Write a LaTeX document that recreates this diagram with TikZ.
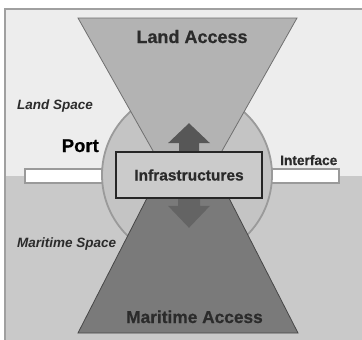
\documentclass[tikz,border=0pt]{standalone}
\usepackage{fontspec}
\setmainfont{Liberation Sans}[BoldFeatures={FakeBold=0.6}]
\usetikzlibrary{calc}
\definecolor{landbg}{HTML}{EDEDED}
\definecolor{seabg}{HTML}{C9C9C9}
\definecolor{framec}{HTML}{A0A0A0}
\definecolor{circfill}{HTML}{C4C4C4}
\definecolor{circline}{HTML}{9A9A9A}
\definecolor{toptri}{HTML}{B3B3B3}
\definecolor{toptriline}{HTML}{707070}
\definecolor{bottri}{HTML}{7A7A7A}
\definecolor{bottriline}{HTML}{474747}
\definecolor{arrowc}{HTML}{575757}
\definecolor{boxfill}{HTML}{CBCBCB}
\definecolor{txt}{HTML}{2B2B2B}
\begin{document}
\begin{tikzpicture}[x=1pt,y=-1pt,
  lbl/.style={inner sep=0pt,text=txt,font=\bfseries},
  italbl/.style={lbl,font=\bfseries\itshape\fontsize{13.5}{14}\selectfont},
  bigbl/.style={lbl,font=\bfseries\fontsize{18}{20}\selectfont},
  tri/.style={line width=0.8pt},
  arr/.style={fill=arrowc,draw=none},
  infrabox/.style={draw=black!85,fill=boxfill,line width=1.6pt,minimum width=146pt,minimum height=46pt,inner sep=0pt}]
\useasboundingbox (0,0) rectangle (362,340);
\fill[white] (0,0) rectangle (362,340);
% land and sea
\fill[landbg] (5,9) rectangle (362,176);
\fill[seabg] (5,176) rectangle (362,340);
\draw[framec,line width=1.6pt] (5,340) -- (5,9) -- (362,9);
% interface bar
\node[draw=circline,fill=white,line width=1.1pt,minimum width=314pt,minimum height=14pt,inner sep=0pt] (bar) at (182,176) {};
% port circle
\node[circle,draw=circline,fill=circfill,line width=1.8pt,minimum size=170pt,inner sep=0pt] (port) at (187,175) {};
% triangles
\draw[tri,fill=bottri,draw=bottriline] (78,333) coordinate (mb1) -- (298,333) coordinate (mb2) -- (188,118) coordinate (ma) -- cycle;
\draw[tri,fill=toptri,draw=toptriline] (78,18) coordinate (lb1) -- (297,18) coordinate (lb2) -- (187.5,212) coordinate (la) -- cycle;
% infrastructures box (position reference)
\node[infrabox] (infra) at (189,175) {};
% arrows
\fill[arr] ($(infra.north)+(-10,1)$) -- ++(0,-9) -- ++(-11,0) -- ++(21,-20) -- ++(21,20) -- ++(-11,0) -- ++(0,9) -- cycle;
\fill[arr,fill=arrowc!92!white] ($(infra.south)+(-11,-1)$) -- ++(0,8) -- ++(-10,0) -- ++(21,22) -- ++(21,-22) -- ++(-10,0) -- ++(0,-8) -- cycle;
\node[infrabox] at (infra) {};
% texts
\node[lbl,font=\bfseries\fontsize{15.5}{18}\selectfont] (infratext) at (189,175) {Infrastructures};
\node[bigbl,anchor=base] (landacc) at (192,43) {Land Access};
\node[lbl,font=\bfseries\fontsize{17.3}{19}\selectfont,anchor=base] (maracc) at (194.5,323) {Maritime Access};
\node[italbl,anchor=base west] (landsp) at (17,109) {Land Space};
\node[italbl,anchor=base west] (marsp) at (17,247) {Maritime Space};
\node[lbl,text=black,font=\bfseries\fontsize{18.5}{20}\selectfont,anchor=base east] (porttxt) at (99,152) {Port};
\node[lbl,font=\bfseries\fontsize{13.7}{15}\selectfont,anchor=base west] (iface) at (280,165) {Interface};
\end{tikzpicture}
\end{document}
